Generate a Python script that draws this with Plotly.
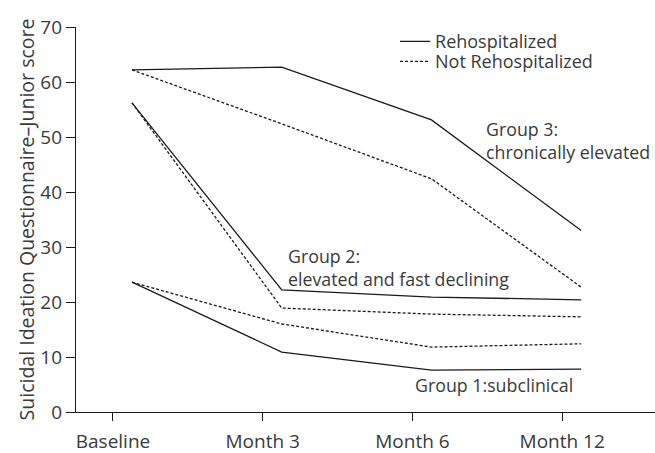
import plotly.graph_objects as go

categories = ["Baseline", "Month 3", "Month 6", "Month 12"]
y_ticks = [0, 10, 20, 30, 40, 50, 60, 70]

g3_rehosp = [62.2, 62.7, 53.1, 33.0]
g3_not = [62.2, 52.4, 42.4, 22.7]
g2_rehosp = [56.2, 22.2, 20.9, 20.4]
g2_not = [56.2, 18.9, 17.8, 17.3]
g1_rehosp = [23.6, 10.9, 7.6, 7.8]
g1_not = [23.6, 16.0, 11.8, 12.4]

idx = list(range(len(categories)))
offset = 0.127
x_left, x_right = -0.247, 3.62

line_col = "#1a1a1a"
text_col = "#3a3a3a"
font_family = "Open Sans"

fig = go.Figure()
series = [
    (g3_rehosp, "solid", "Rehospitalized", True, "legend"),
    (g3_not, "3px,2px", "Not Rehospitalized", True, "legend2"),
    (g2_rehosp, "solid", "Rehospitalized", False, "legend"),
    (g2_not, "3px,2px", "Not Rehospitalized", False, "legend2"),
    (g1_rehosp, "solid", "Rehospitalized", False, "legend"),
    (g1_not, "3px,2px", "Not Rehospitalized", False, "legend2"),
]
for vals, dash, name, show, leg in series:
    fig.add_trace(go.Scatter(
        x=idx, y=vals, mode="lines", name=name, showlegend=show, legend=leg,
        line=dict(color=line_col, width=1.3, dash=dash),
        xaxis="x", yaxis="y",
    ))
# empty trace so the labelled axis is drawn
fig.add_trace(go.Scatter(x=[], y=[], xaxis="x2", yaxis="y", showlegend=False))

legend_common = dict(
    xanchor="left", yanchor="top",
    font=dict(size=18, color=text_col),
    bgcolor="rgba(0,0,0,0)",
)

fig.update_layout(
    width=655, height=453,
    margin=dict(l=76, r=0, t=27, b=41),
    paper_bgcolor="white", plot_bgcolor="white",
    font=dict(family=font_family, color=text_col, size=18),
    xaxis=dict(range=[x_left - offset, x_right - offset], visible=False,
               showgrid=False, automargin=False),
    xaxis2=dict(
        overlaying="x", anchor="y", side="bottom",
        range=[x_left, x_right], automargin=False,
        tickmode="array", tickvals=idx, ticktext=categories,
        ticks="outside", ticklen=8, tickcolor=line_col, tickwidth=1.3,
        ticklabelstandoff=4,
        showline=True, linecolor=line_col, linewidth=1.3,
        showgrid=False, zeroline=False,
        tickfont=dict(size=19, color=text_col),
    ),
    yaxis=dict(
        range=[0, 70], tickmode="array", tickvals=y_ticks, automargin=False,
        ticks="outside", ticklen=9, tickcolor=line_col, tickwidth=1.3,
        showline=True, linecolor=line_col, linewidth=1.3,
        showgrid=False, zeroline=False,
        tickfont=dict(size=19, color=text_col),
        title=dict(text="Suicidal Ideation Questionnaire\u2013Junior score",
                   font=dict(size=19.5, color=text_col), standoff=0),
    ),
    legend=dict(x=0.551, y=1.01, **legend_common),
    legend2=dict(x=0.551, y=0.958, **legend_common),
    showlegend=True,
)

annots = [
    (2.35, 44.7, "Group 3:<br>chronically elevated"),
    (1.03, 21.6, "Group 2:<br>elevated and fast declining"),
    (1.88, 2.4, "Group 1:subclinical"),
]
for xa, ya, txt in annots:
    fig.add_annotation(x=xa, y=ya, xref="x", yref="y", text=txt, showarrow=False,
                       xanchor="left", yanchor="bottom", align="left",
                       font=dict(size=17.8, color=text_col))

fig.write_html(
    "out.html",
    config={"displayModeBar": False},
    post_script="document.body.style.margin='0';document.body.style.overflow='hidden';",
)
